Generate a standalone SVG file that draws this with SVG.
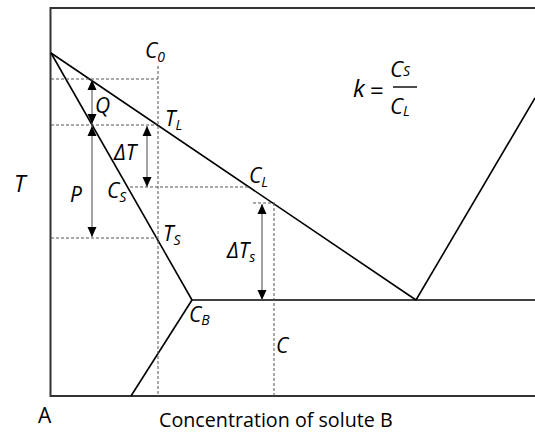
<svg xmlns="http://www.w3.org/2000/svg" width="535" height="435" viewBox="0 0 535 435">
<defs>
<style>
.box{fill:none;stroke:#333;stroke-width:2}
.ph{fill:none;stroke:#000;stroke-width:1.6}
.dash{fill:none;stroke:#555;stroke-width:1;stroke-dasharray:3 2}
.arr{fill:none;stroke:#666;stroke-width:1.2;marker-start:url(#ah);marker-end:url(#ah)}
.l{font-family:"Open Sans","Liberation Sans",sans-serif;font-style:italic;font-size:21px;fill:#000}
.s{font-size:14px}
.n{font-family:"Open Sans","Liberation Sans",sans-serif;fill:#000}
</style>
<marker id="ah" markerUnits="userSpaceOnUse" markerWidth="10" markerHeight="10" refX="10" refY="4.5" orient="auto-start-reverse" viewBox="0 0 10 9">
<path d="M0,0 L10,4.5 L0,9 z" fill="#000"/>
</marker>
</defs>
<g id="axes">
<path class="box" d="M535,8 H50.5 V396 H535"/>
</g>
<g id="phase-lines">
<path class="ph" d="M51,53 L416,300"/>
<path class="ph" d="M51,53 L192,300"/>
<path class="ph" d="M192,300 H535"/>
<path class="ph" d="M192,300 L131,396"/>
<path class="ph" d="M416,300 L535,98"/>
</g>
<g id="connectors">
<path class="dash" d="M51,79 H158"/>
<path class="dash" d="M158,66 V396"/>
<path class="dash" d="M51,125 H157"/>
<path class="dash" d="M130,187 H249"/>
<path class="dash" d="M51,238 H157"/>
<path class="dash" d="M253,203 H275"/>
<path class="dash" d="M274,203 V396"/>
<path class="arr" d="M92,80 V124"/>
<path class="arr" d="M92,126 V237"/>
<path class="arr" d="M147,126 V187"/>
<path class="arr" d="M262,204 V300"/>
</g>
<g id="labels">
<text class="l" x="145" y="58">C<tspan class="s" dy="4">0</tspan></text>
<text class="l" x="95" y="113">Q</text>
<text class="l" x="165" y="126">T<tspan class="s" dy="4">L</tspan></text>
<text class="l" x="114" y="160">ΔT</text>
<text class="l" x="249" y="183">C<tspan class="s" dy="4">L</tspan></text>
<text class="l" x="70" y="202">P</text>
<text class="l" x="107" y="198">C<tspan class="s" dy="4">S</tspan></text>
<text class="l" x="163" y="241">T<tspan class="s" dy="4">S</tspan></text>
<text class="l" x="227" y="258">ΔT<tspan class="s" dy="4">s</tspan></text>
<text class="l" x="189" y="322">C<tspan class="s" dy="3">B</tspan></text>
<text class="l" x="276" y="353">C</text>
<text class="l" x="14" y="192" style="font-size:23px">T</text>
<text class="n" x="38" y="423" style="font-size:21px">A</text>
<text class="n" x="159" y="427" style="font-size:19.7px">Concentration of solute B</text>
</g>
<g id="formula">
<text class="l" x="353" y="97" style="font-size:24px">k</text>
<text class="n" x="370" y="99" style="font-size:24px">=</text>
<path d="M393,87 H417" stroke="#000" stroke-width="1.4"/>
<text class="l" x="390" y="77" style="font-size:22px">C<tspan class="s" dy="-1">S</tspan></text>
<text class="l" x="390" y="114" style="font-size:22px">C<tspan class="s" dy="2">L</tspan></text>
</g>
</svg>
